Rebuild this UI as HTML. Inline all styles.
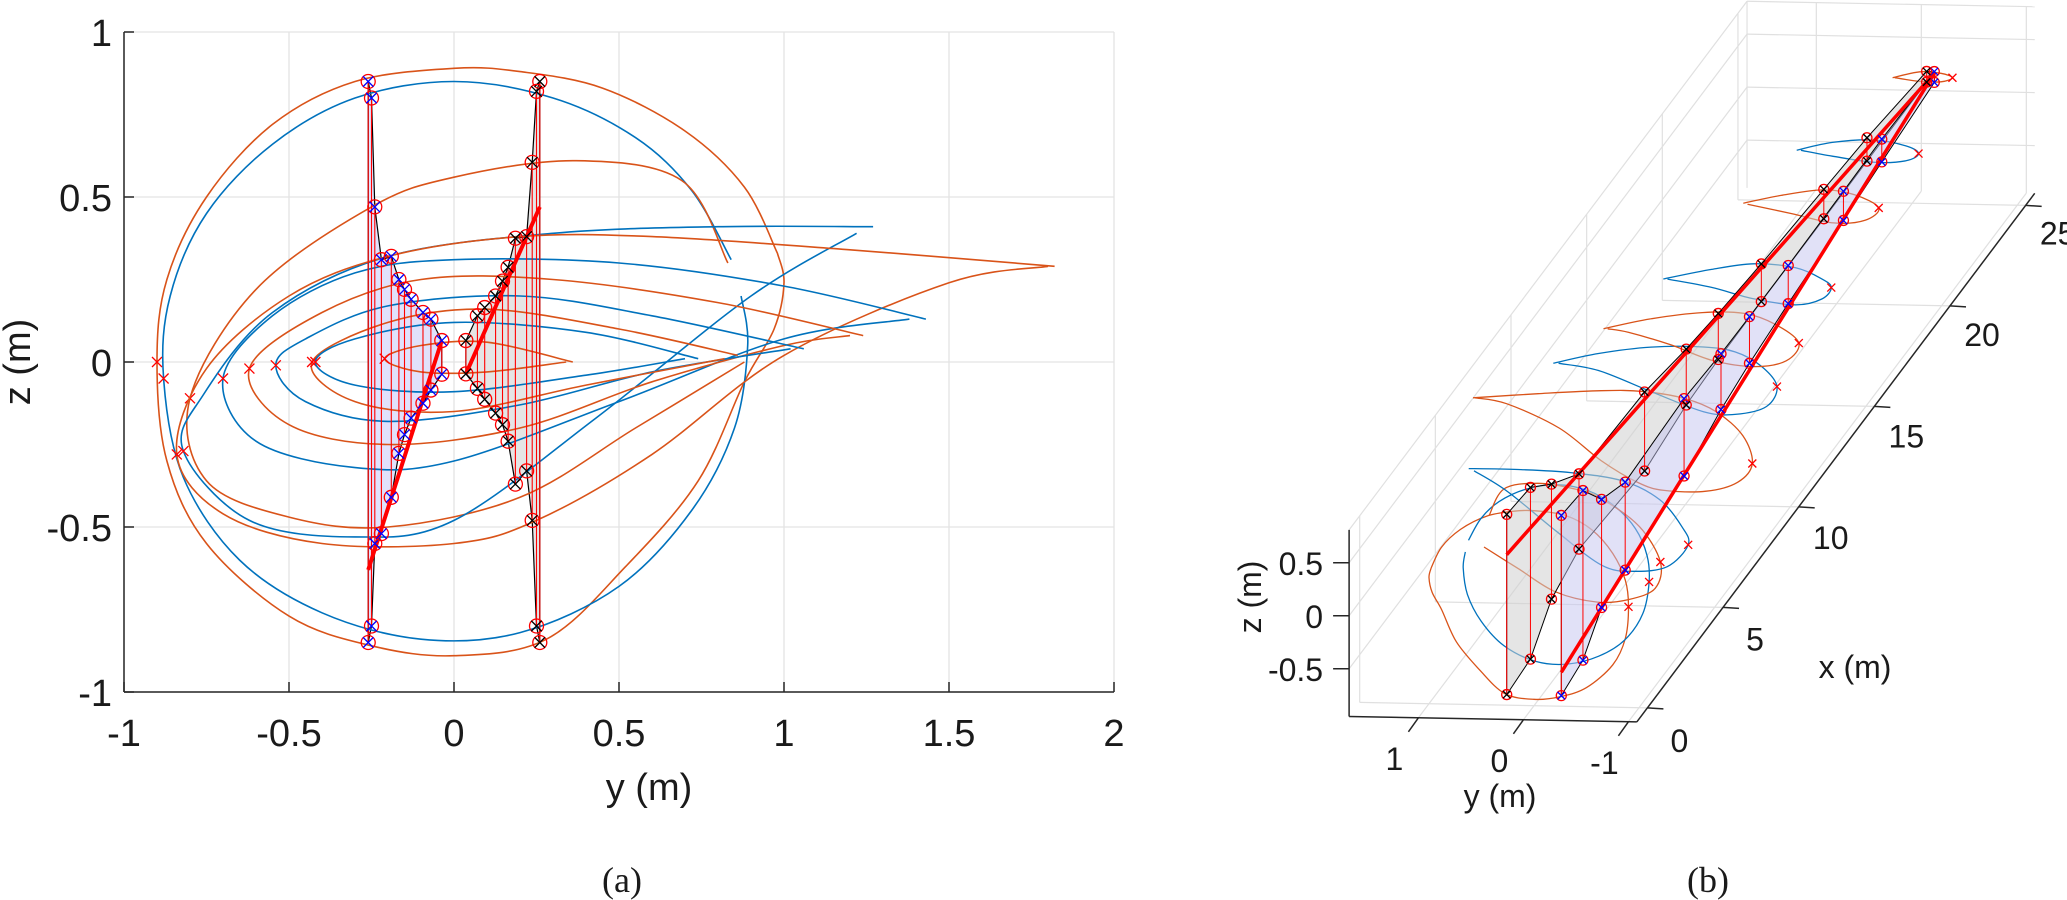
<!DOCTYPE html>
<html><head><meta charset="utf-8"><style>
html,body{margin:0;padding:0;background:#fff;}
svg{display:block;}
text{font-family:"Liberation Sans",Arial,sans-serif;fill:#1a1a1a;}
.serif{font-family:"Liberation Serif","Times New Roman",serif;}
</style></head><body>
<svg id="fig" width="2067" height="900" viewBox="0 0 2067 900" xmlns="http://www.w3.org/2000/svg">
<rect x="0" y="0" width="2067" height="900" fill="#fff"/>
<g id="A"></g>
<g id="B"></g>
<text x="622" y="892" font-size="36" text-anchor="middle" class="serif">(a)</text>
<text x="1708" y="892" font-size="36" text-anchor="middle" class="serif">(b)</text>
</svg>
<script>
// ---------- data ----------
const yTicksA=[-1,-0.5,0,0.5,1,1.5,2];
const yTickLabelsA=['-1','-0.5','0','0.5','1','1.5','2'];
const zTicksA=[-1,-0.5,0,0.5,1];
const zTickLabelsA=['-1','-0.5','0','0.5','1'];
const xTicksB=[0,5,10,15,20,25];
const xTickLabelsB=['0','5','10','15','20','25'];
const yTicksB=[1,0,-1];
const yTickLabelsB=['1','0','-1'];
const zTicksB=[0.5,0,-0.5];
const zTickLabelsB=['0.5','0','-0.5'];
const loopColors=['o','b','o','b','o','b','o','b','o','b','o'];
const loopStations=[0,1.5,2.8,4.5,8.6,11.2,13.2,15.9,19.8,22.5,26.2];
const loopOcircle=[[0.98,0.33],[0.88,0.53],[0.7,0.7],[0.45,0.83],[0.2,0.88],[0,0.89],[-0.3,0.85],[-0.55,0.72],[-0.75,0.5],[-0.87,0.25],[-0.9,0],[-0.87,-0.3],[-0.75,-0.55],[-0.5,-0.77],[-0.25,-0.86],[0,-0.89],[0.28,-0.84],[0.52,-0.62],[0.74,-0.36],[0.88,-0.06],[0.97,0.1],[1.0,0.24],[0.98,0.33]];
const loopBcircle=[[0.84,0.31],[0.72,0.52],[0.55,0.68],[0.3,0.8],[0,0.85],[-0.3,0.8],[-0.55,0.66],[-0.75,0.45],[-0.86,0.2],[-0.88,-0.05],[-0.82,-0.35],[-0.65,-0.6],[-0.4,-0.76],[-0.1,-0.84],[0.2,-0.82],[0.5,-0.68],[0.72,-0.45],[0.85,-0.2],[0.89,0.05],[0.87,0.2]];
const loopO2=[[0.83,0.3],[0.69,0.55],[0.37,0.61],[0,0.56],[-0.25,0.47],[-0.6,0.22],[-0.8,-0.11],[-0.75,-0.36],[-0.5,-0.47],[-0.2,-0.5],[0.2,-0.41],[0.55,-0.2],[0.88,0.0]];
const loopB2=[[1.27,0.41],[0.8,0.41],[0.3,0.39],[-0.2,0.32],[-0.55,0.15],[-0.76,-0.1],[-0.82,-0.27],[-0.62,-0.48],[-0.3,-0.53],[0,-0.48],[0.43,-0.17],[0.9,0.2],[1.22,0.39]];
const loopO1=[[1.82,0.29],[1.2,0.34],[0.6,0.38],[0.2,0.38],[-0.2,0.32],[-0.5,0.2],[-0.75,-0.02],[-0.84,-0.28],[-0.7,-0.46],[-0.4,-0.55],[0,-0.55],[0.25,-0.48],[0.6,-0.28],[1.0,0.02],[1.5,0.24],[1.8,0.29]];
const loopB3=[[1.43,0.13],[1.0,0.23],[0.5,0.3],[0,0.31],[-0.3,0.27],[-0.55,0.14],[-0.7,-0.05],[-0.6,-0.24],[-0.3,-0.32],[0,-0.3],[0.5,-0.12],[1.0,0.07],[1.38,0.13]];
const loopO4=[[1.24,0.08],[0.8,0.18],[0.3,0.25],[-0.1,0.25],[-0.4,0.15],[-0.62,-0.02],[-0.5,-0.19],[-0.2,-0.25],[0.2,-0.2],[0.6,-0.06],[1.0,0.05],[1.2,0.08]];
const loopB5=[[1.06,0.04],[0.6,0.14],[0.2,0.2],[-0.2,0.17],[-0.45,0.07],[-0.54,-0.01],[-0.45,-0.12],[-0.2,-0.18],[0.2,-0.13],[0.6,-0.03],[1.02,0.04]];
const loopO6=[[0.86,0.02],[0.5,0.1],[0.1,0.16],[-0.2,0.12],[-0.43,0],[-0.3,-0.12],[0,-0.15],[0.4,-0.07],[0.82,0.01]];
const loopB7=[[0.74,0.01],[0.4,0.09],[0,0.12],[-0.3,0.07],[-0.42,0],[-0.3,-0.07],[0,-0.09],[0.4,-0.04],[0.7,0.01]];
const loopO8=[[0.36,0],[0.1,0.06],[-0.1,0.05],[-0.21,0.01],[-0.1,-0.03],[0.1,-0.03],[0.34,0]];
const loops=[loopOcircle,loopBcircle,loopO2,loopB2,loopO1,loopB3,loopO4,loopB5,loopO6,loopB7,loopO8];
const leftY=[-0.26,-0.25,-0.24,-0.22,-0.19,-0.167,-0.15,-0.13,-0.094,-0.07,-0.037];
const leftUpperZ=[0.85,0.80,0.47,0.31,0.32,0.25,0.22,0.19,0.15,0.13,0.065];
const leftLowerZ=[-0.85,-0.80,-0.55,-0.52,-0.41,-0.277,-0.22,-0.17,-0.125,-0.085,-0.037];
const rightY=[0.26,0.25,0.237,0.22,0.186,0.164,0.147,0.126,0.093,0.071,0.036];
const rightUpperZ=[0.85,0.82,0.605,0.38,0.375,0.287,0.245,0.2,0.165,0.14,0.065];
const rightLowerZ=[-0.85,-0.8,-0.48,-0.33,-0.37,-0.24,-0.19,-0.155,-0.113,-0.08,-0.036];
const redStartY=[0.26,-0.26];
const redStartZ=[0.47,-0.63];
const tipX=26.5;
const boxB={xmin:-0.7,xmax:25.6,ymin:-1.08,ymax:1.66,zmin:-0.95,zmax:0.81};

// ---------- scales ----------
const NS='http://www.w3.org/2000/svg';
const AY=y=>454+330*y, AZ=z=>362-330*z;
const P=(x,y,z)=>[1534+15.13*x-105*y, 605-20.1*x-2*y-106*z];
const COL={o:'#D95319',b:'#0072BD'};
function el(tag,parent,attrs){const e=document.createElementNS(NS,tag);for(const k in attrs)e.setAttribute(k,attrs[k]);parent.appendChild(e);return e;}
function smooth(pts){let d='M'+pts[0][0].toFixed(1)+' '+pts[0][1].toFixed(1);
 for(let i=0;i<pts.length-1;i++){const p0=pts[i-1]||pts[i],p1=pts[i],p2=pts[i+1],p3=pts[i+2]||p2;
  const c1=[p1[0]+(p2[0]-p0[0])/6,p1[1]+(p2[1]-p0[1])/6],c2=[p2[0]-(p3[0]-p1[0])/6,p2[1]-(p3[1]-p1[1])/6];
  d+=' C'+c1.map(v=>v.toFixed(1)).join(' ')+' '+c2.map(v=>v.toFixed(1)).join(' ')+' '+p2.map(v=>v.toFixed(1)).join(' ');}
 return d;}
function poly(pts){return pts.map(p=>p[0].toFixed(1)+','+p[1].toFixed(1)).join(' ');}
function marker(g,x,y,r,cc){const m=el('g',g,{});
 
 
 el('circle',m,{cx:x,cy:y,r:r,fill:'none',stroke:'#ff0000','stroke-width':1.3});
 const k=r*0.75;el('path',m,{d:`M${x-k} ${y-k}L${x+k} ${y+k}M${x-k} ${y+k}L${x+k} ${y-k}`,stroke:cc,'stroke-width':1.3});}
function cross(g,x,y,k){const c=el('path',g,{d:`M${x-k} ${y-k}L${x+k} ${y+k}M${x-k} ${y+k}L${x+k} ${y-k}`,stroke:'#ff0000','stroke-width':1.3});
 
 }
function minYIdx(pts){let m=0;pts.forEach((p,i)=>{if(p[0]<pts[m][0])m=i;});return m;}

// ---------- panel (a) ----------
const A=document.getElementById('A');
const gridA=el('g',A,{stroke:'#e3e3e3','stroke-width':1.3});


yTicksA.forEach(v=>el('line',gridA,{x1:AY(v),x2:AY(v),y1:AZ(1),y2:AZ(-1)}));
zTicksA.forEach(v=>el('line',gridA,{x1:AY(-1),x2:AY(2),y1:AZ(v),y2:AZ(v)}));
const lp=[];leftY.forEach((y,i)=>lp.push([AY(y),AZ(leftUpperZ[i])]));for(let i=leftY.length-1;i>=0;i--)lp.push([AY(leftY[i]),AZ(leftLowerZ[i])]);
const lpa=el('polygon',A,{points:poly(lp),fill:'#e1e1fb',stroke:'#000','stroke-width':1.2});


const rp=[];rightY.forEach((y,i)=>rp.push([AY(y),AZ(rightUpperZ[i])]));for(let i=rightY.length-1;i>=0;i--)rp.push([AY(rightY[i]),AZ(rightLowerZ[i])]);
const rpa=el('polygon',A,{points:poly(rp),fill:'#e5e5e5',stroke:'#000','stroke-width':1.2});


loops.forEach((pts,i)=>{const p=el('path',A,{d:smooth(pts.map(q=>[AY(q[0]),AZ(q[1])])),fill:'none',stroke:COL[loopColors[i]],'stroke-width':1.6});
 
 
 const m=pts[minYIdx(pts)];cross(A,AY(m[0]),AZ(m[1]),5);});
leftY.forEach((y,i)=>{const l=el('line',A,{x1:AY(y),x2:AY(y),y1:AZ(leftUpperZ[i]),y2:AZ(leftLowerZ[i]),stroke:'#ff0000','stroke-width':1.1});
 
 });
rightY.forEach((y,i)=>{const l=el('line',A,{x1:AY(y),x2:AY(y),y1:AZ(rightUpperZ[i]),y2:AZ(rightLowerZ[i]),stroke:'#ff0000','stroke-width':1.1});
 
 });
const redEndY=[rightY[rightY.length-1],leftY[leftY.length-1]];
const redEndZ=[rightLowerZ[rightLowerZ.length-1],leftUpperZ[leftUpperZ.length-1]];
redStartY.forEach((y,i)=>{const l=el('line',A,{x1:AY(y),y1:AZ(redStartZ[i]),x2:AY(redEndY[i]),y2:AZ(redEndZ[i]),stroke:'#ff0000','stroke-width':4});
 
 });
leftY.forEach((y,i)=>{marker(A,AY(y),AZ(leftUpperZ[i]),7,'#0000ff');marker(A,AY(y),AZ(leftLowerZ[i]),7,'#0000ff');});
rightY.forEach((y,i)=>{marker(A,AY(y),AZ(rightUpperZ[i]),7,'#000');marker(A,AY(y),AZ(rightLowerZ[i]),7,'#000');});
const axA=el('g',A,{stroke:'#262626','stroke-width':1.5,fill:'none'});


el('line',axA,{x1:AY(-1),x2:AY(2),y1:AZ(-1),y2:AZ(-1)});
el('line',axA,{x1:AY(-1),x2:AY(-1),y1:AZ(-1),y2:AZ(1)});
yTicksA.forEach((v,i)=>{el('line',axA,{x1:AY(v),x2:AY(v),y1:AZ(-1),y2:AZ(-1)-10});
 const t=el('text',A,{x:AY(v),y:746,'font-size':38,'text-anchor':'middle'});t.textContent=yTickLabelsA[i];
 
 });
zTicksA.forEach((v,i)=>{el('line',axA,{x1:AY(-1),x2:AY(-1)+10,y1:AZ(v),y2:AZ(v)});
 const t=el('text',A,{x:112,y:AZ(v)+14,'font-size':38,'text-anchor':'end'});t.textContent=zTickLabelsA[i];
 
 });
const xtA=el('text',A,{x:649,y:800,'font-size':38,'text-anchor':'middle'});xtA.textContent='y (m)';


const ytA=el('text',A,{x:0,y:0,'font-size':38,'text-anchor':'middle',transform:'translate(30,362) rotate(-90)'});ytA.textContent='z (m)';



// ---------- panel (b) ----------
const B=document.getElementById('B');
const b=boxB;
const gridB=el('g',B,{stroke:'#e0e0e0','stroke-width':1.2});


function seg(g,p,q){const a=P(...p),c=P(...q);el('line',g,{x1:a[0],y1:a[1],x2:c[0],y2:c[1]});}
xTicksB.forEach(x=>{seg(gridB,[x,b.ymax,b.zmin],[x,b.ymax,b.zmax]);seg(gridB,[x,b.ymax,b.zmin],[x,b.ymin,b.zmin]);});
zTicksB.forEach(z=>{seg(gridB,[b.xmin,b.ymax,z],[b.xmax,b.ymax,z]);seg(gridB,[b.xmax,b.ymax,z],[b.xmax,b.ymin,z]);});
yTicksB.forEach(y=>{seg(gridB,[b.xmin,y,b.zmin],[b.xmax,y,b.zmin]);seg(gridB,[b.xmax,y,b.zmin],[b.xmax,y,b.zmax]);});
seg(gridB,[b.xmax,b.ymax,b.zmin],[b.xmax,b.ymax,b.zmax]);
seg(gridB,[b.xmax,b.ymax,b.zmax],[b.xmax,b.ymin,b.zmax]);
seg(gridB,[b.xmin,b.ymax,b.zmax],[b.xmax,b.ymax,b.zmax]);
loops.forEach((pts,i)=>{const xs=loopStations[i];const p=el('path',B,{d:smooth(pts.map(q=>P(xs,q[0],q[1]))),fill:'none',stroke:COL[loopColors[i]],'stroke-width':1.3});
 
 
 const m=pts[minYIdx(pts)];const s=P(xs,m[0],m[1]);cross(B,s[0],s[1],4);});
const gp=[];rightY.forEach((y,i)=>gp.push(P(loopStations[i],y,rightUpperZ[i])));gp.push(P(tipX,0,0));for(let i=rightY.length-1;i>=0;i--)gp.push(P(loopStations[i],rightY[i],rightLowerZ[i]));
const gpb=el('polygon',B,{points:poly(gp),fill:'#cfcfcf','fill-opacity':0.55,stroke:'#000','stroke-width':1});


const bp=[];leftY.forEach((y,i)=>bp.push(P(loopStations[i],y,leftUpperZ[i])));bp.push(P(tipX,0,0));for(let i=leftY.length-1;i>=0;i--)bp.push(P(loopStations[i],leftY[i],leftLowerZ[i]));
const bpb=el('polygon',B,{points:poly(bp),fill:'#c4c4f0','fill-opacity':0.5,stroke:'#000','stroke-width':1});


leftY.forEach((y,i)=>{const a=P(loopStations[i],y,leftUpperZ[i]),c=P(loopStations[i],y,leftLowerZ[i]);const l=el('line',B,{x1:a[0],y1:a[1],x2:c[0],y2:c[1],stroke:'#ff0000','stroke-width':1});
 
 });
rightY.forEach((y,i)=>{const a=P(loopStations[i],y,rightUpperZ[i]),c=P(loopStations[i],y,rightLowerZ[i]);const l=el('line',B,{x1:a[0],y1:a[1],x2:c[0],y2:c[1],stroke:'#ff0000','stroke-width':1});
 
 });
redStartY.forEach((y,i)=>{const a=P(0,y,redStartZ[i]),c=P(tipX,0,0);const l=el('line',B,{x1:a[0],y1:a[1],x2:c[0],y2:c[1],stroke:'#ff0000','stroke-width':3.5});
 
 });
leftY.forEach((y,i)=>{let a=P(loopStations[i],y,leftUpperZ[i]);marker(B,a[0],a[1],5,'#0000ff');a=P(loopStations[i],y,leftLowerZ[i]);marker(B,a[0],a[1],5,'#0000ff');});
rightY.forEach((y,i)=>{let a=P(loopStations[i],y,rightUpperZ[i]);marker(B,a[0],a[1],5,'#000');a=P(loopStations[i],y,rightLowerZ[i]);marker(B,a[0],a[1],5,'#000');});
const axB=el('g',B,{stroke:'#262626','stroke-width':1.5});


seg(axB,[b.xmin,b.ymax,b.zmin],[b.xmin,b.ymax,b.zmax]);
seg(axB,[b.xmin,b.ymax,b.zmin],[b.xmin,b.ymin,b.zmin]);
seg(axB,[b.xmin,b.ymin,b.zmin],[b.xmax,b.ymin,b.zmin]);
zTicksB.forEach((z,i)=>{const a=P(b.xmin,b.ymax,z);el('line',axB,{x1:a[0],y1:a[1],x2:a[0]-16,y2:a[1]});
 const t=el('text',B,{x:a[0]-26,y:a[1]+12,'font-size':32,'text-anchor':'end'});t.textContent=zTickLabelsB[i];
 
 });
yTicksB.forEach((y,i)=>{const a=P(b.xmin,y,b.zmin);el('line',axB,{x1:a[0],y1:a[1],x2:a[0]-10,y2:a[1]+14});
 const t=el('text',B,{x:a[0]-24,y:a[1]+52,'font-size':32,'text-anchor':'middle'});t.textContent=yTickLabelsB[i];
 
 });
xTicksB.forEach((x,i)=>{const a=P(x,b.ymin,b.zmin);el('line',axB,{x1:a[0],y1:a[1],x2:a[0]+16,y2:a[1]+1});
 const t=el('text',B,{x:a[0]+32,y:a[1]+44-i*1,'font-size':32,'text-anchor':'middle'});t.textContent=xTickLabelsB[i];
 
 });
const xtB=el('text',B,{x:1855,y:678,'font-size':32,'text-anchor':'middle'});xtB.textContent='x (m)';


const ytB=el('text',B,{x:1500,y:807,'font-size':32,'text-anchor':'middle'});ytB.textContent='y (m)';


const ztB=el('text',B,{x:0,y:0,'font-size':32,'text-anchor':'middle',transform:'translate(1261,597) rotate(-90)'});ztB.textContent='z (m)';


</script>
</body></html>
